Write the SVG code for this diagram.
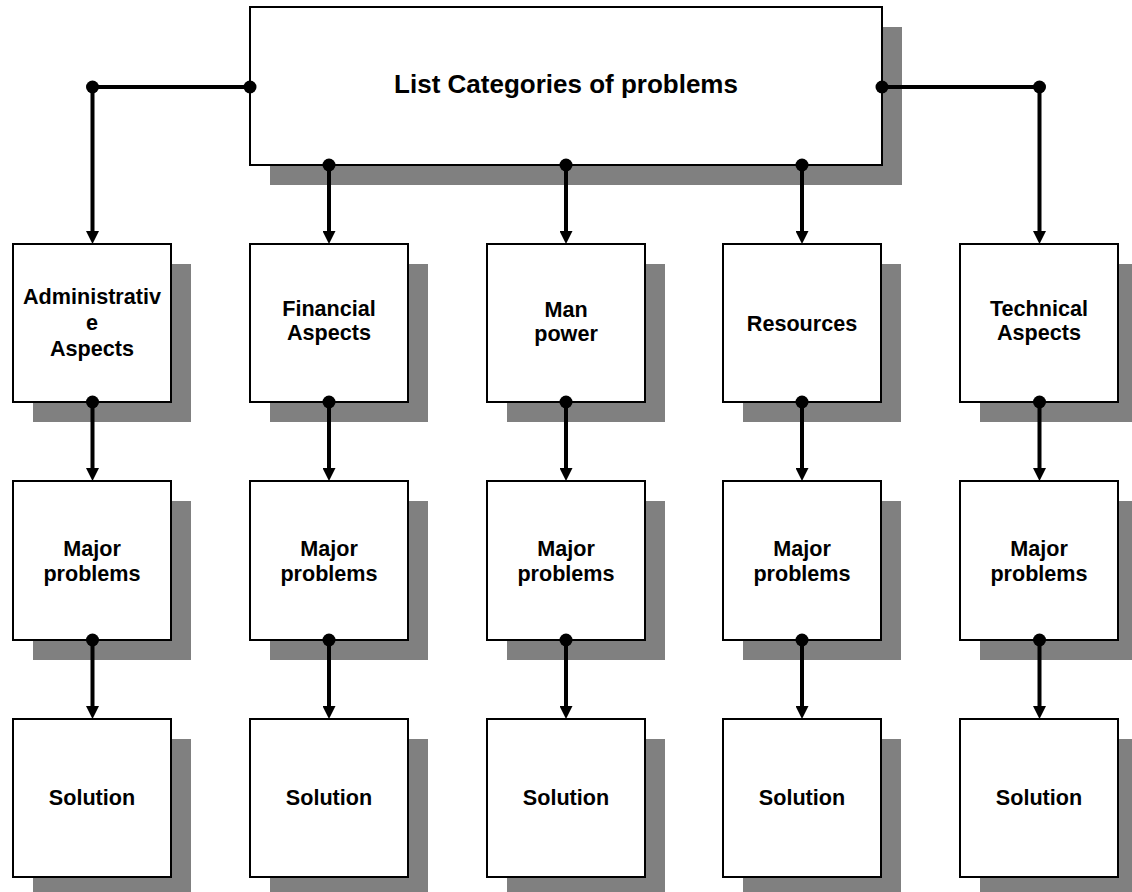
<svg xmlns="http://www.w3.org/2000/svg" width="1132" height="892" viewBox="0 0 1132 892">
<style>
.sh{fill:#808080}
.bx{fill:#ffffff;stroke:#000000;stroke-width:2}
.t{font-family:"Liberation Sans",Arial,sans-serif;font-weight:bold;font-size:21.6px;fill:#000;text-anchor:middle}
.tt{font-family:"Liberation Sans",Arial,sans-serif;font-weight:bold;font-size:26px;fill:#000;text-anchor:middle}
.c{fill:none;stroke:#000;stroke-width:4;marker-end:url(#arr)}
.d{fill:#000}
</style>
<defs>
<marker id="arr" viewBox="0 0 13 13" markerWidth="13" markerHeight="13" refX="3" refY="6.5" orient="auto" markerUnits="userSpaceOnUse">
<path d="M0,0 L13,6.5 L0,13 z" fill="#000"/>
</marker>
</defs>
<rect width="1132" height="892" fill="#ffffff"/>

<g id="top">
<rect class="sh" x="270" y="27" width="632" height="158"/>
<rect class="bx" x="250" y="7" width="632" height="158"/>
<text class="tt" x="566" y="93">List Categories of problems</text>
</g>

<g id="cat1"><rect class="sh" x="33" y="264" width="158" height="158"/><rect class="bx" x="13" y="244" width="158" height="158"/>
<text class="t" x="92" y="304">Administrativ</text><text class="t" x="92" y="330">e</text><text class="t" x="92" y="356">Aspects</text></g>
<g id="cat2"><rect class="sh" x="270" y="264" width="158" height="158"/><rect class="bx" x="250" y="244" width="158" height="158"/>
<text class="t" x="329" y="316">Financial</text><text class="t" x="329" y="340">Aspects</text></g>
<g id="cat3"><rect class="sh" x="507" y="264" width="158" height="158"/><rect class="bx" x="487" y="244" width="158" height="158"/>
<text class="t" x="566" y="317">Man</text><text class="t" x="566" y="341">power</text></g>
<g id="cat4"><rect class="sh" x="743" y="264" width="158" height="158"/><rect class="bx" x="723" y="244" width="158" height="158"/>
<text class="t" x="802" y="331">Resources</text></g>
<g id="cat5"><rect class="sh" x="980" y="264" width="158" height="158"/><rect class="bx" x="960" y="244" width="158" height="158"/>
<text class="t" x="1039" y="316">Technical</text><text class="t" x="1039" y="340">Aspects</text></g>

<g id="maj1"><rect class="sh" x="33" y="501" width="158" height="159"/><rect class="bx" x="13" y="481" width="158" height="159"/>
<text class="t" x="92" y="556">Major</text><text class="t" x="92" y="581">problems</text></g>
<g id="maj2"><rect class="sh" x="270" y="501" width="158" height="159"/><rect class="bx" x="250" y="481" width="158" height="159"/>
<text class="t" x="329" y="556">Major</text><text class="t" x="329" y="581">problems</text></g>
<g id="maj3"><rect class="sh" x="507" y="501" width="158" height="159"/><rect class="bx" x="487" y="481" width="158" height="159"/>
<text class="t" x="566" y="556">Major</text><text class="t" x="566" y="581">problems</text></g>
<g id="maj4"><rect class="sh" x="743" y="501" width="158" height="159"/><rect class="bx" x="723" y="481" width="158" height="159"/>
<text class="t" x="802" y="556">Major</text><text class="t" x="802" y="581">problems</text></g>
<g id="maj5"><rect class="sh" x="980" y="501" width="158" height="159"/><rect class="bx" x="960" y="481" width="158" height="159"/>
<text class="t" x="1039" y="556">Major</text><text class="t" x="1039" y="581">problems</text></g>

<g id="sol1"><rect class="sh" x="33" y="739" width="158" height="158"/><rect class="bx" x="13" y="719" width="158" height="158"/>
<text class="t" x="92" y="805">Solution</text></g>
<g id="sol2"><rect class="sh" x="270" y="739" width="158" height="158"/><rect class="bx" x="250" y="719" width="158" height="158"/>
<text class="t" x="329" y="805">Solution</text></g>
<g id="sol3"><rect class="sh" x="507" y="739" width="158" height="158"/><rect class="bx" x="487" y="719" width="158" height="158"/>
<text class="t" x="566" y="805">Solution</text></g>
<g id="sol4"><rect class="sh" x="743" y="739" width="158" height="158"/><rect class="bx" x="723" y="719" width="158" height="158"/>
<text class="t" x="802" y="805">Solution</text></g>
<g id="sol5"><rect class="sh" x="980" y="739" width="158" height="158"/><rect class="bx" x="960" y="719" width="158" height="158"/>
<text class="t" x="1039" y="805">Solution</text></g>

<g id="connectors">
<path class="c" d="M250,87 H92.5 V234"/>
<path class="c" d="M882,87 H1039.5 V234"/>
<path class="c" d="M329,165 V234"/>
<path class="c" d="M566,165 V234"/>
<path class="c" d="M802,165 V234"/>
<path class="c" d="M92.5,402 V471"/>
<path class="c" d="M329,402 V471"/>
<path class="c" d="M566,402 V471"/>
<path class="c" d="M802,402 V471"/>
<path class="c" d="M1039.5,402 V471"/>
<path class="c" d="M92.5,640 V709"/>
<path class="c" d="M329,640 V709"/>
<path class="c" d="M566,640 V709"/>
<path class="c" d="M802,640 V709"/>
<path class="c" d="M1039.5,640 V709"/>
<circle class="d" cx="250" cy="87" r="6.5"/>
<circle class="d" cx="92.5" cy="87" r="6.5"/>
<circle class="d" cx="882" cy="87" r="6.5"/>
<circle class="d" cx="1039.5" cy="87" r="6.5"/>
<circle class="d" cx="329" cy="165" r="6.5"/>
<circle class="d" cx="566" cy="165" r="6.5"/>
<circle class="d" cx="802" cy="165" r="6.5"/>
<circle class="d" cx="92.5" cy="402" r="6.5"/>
<circle class="d" cx="329" cy="402" r="6.5"/>
<circle class="d" cx="566" cy="402" r="6.5"/>
<circle class="d" cx="802" cy="402" r="6.5"/>
<circle class="d" cx="1039.5" cy="402" r="6.5"/>
<circle class="d" cx="92.5" cy="640" r="6.5"/>
<circle class="d" cx="329" cy="640" r="6.5"/>
<circle class="d" cx="566" cy="640" r="6.5"/>
<circle class="d" cx="802" cy="640" r="6.5"/>
<circle class="d" cx="1039.5" cy="640" r="6.5"/>
</g>
</svg>
